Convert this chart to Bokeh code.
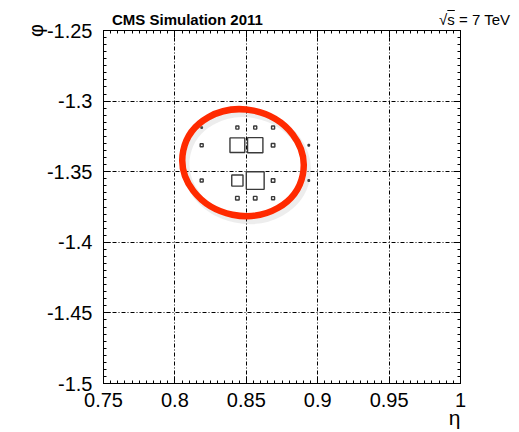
from bokeh.plotting import figure
from bokeh.layouts import column
from bokeh.models import (Range1d, FixedTicker, LinearAxis, CustomJSTickFormatter,
                          ColumnDataSource, Div)
from bokeh.embed import file_html
from bokeh.resources import INLINE

# ---------------- data ----------------
# eta / phi bin centres of the hit cells (bin width 0.0125) and relative energy
cell_eta = [0.85625,
            0.81875, 0.84375, 0.85625, 0.86875,
            0.81875, 0.84375, 0.85625, 0.86875, 0.89375,
            0.81875, 0.84375, 0.85625, 0.86875, 0.89375,
            0.84375, 0.85625, 0.86875,
            0.84375, 0.85625]
cell_phi = [-1.30625,
            -1.31875, -1.31875, -1.31875, -1.31875,
            -1.33125, -1.33125, -1.33125, -1.33125, -1.33125,
            -1.35625, -1.35625, -1.35625, -1.35625, -1.35625,
            -1.36875, -1.36875, -1.36875,
            -1.38125, -1.38125]
cell_energy = [0.05,
               0.08, 0.17, 0.17, 0.17,
               0.17, 0.83, 0.86, 0.20, 0.08,
               0.17, 0.63, 1.00, 0.20, 0.08,
               0.20, 0.20, 0.17,
               0.08, 0.08]
bin_width = 0.0125

x_major = [0.75, 0.8, 0.85, 0.9, 0.95, 1.0]
y_major = [-1.5, -1.45, -1.4, -1.35, -1.3, -1.25]

title_text = "CMS Simulation 2011"

# highlight ellipse (eta, phi, width, height, angle)
ell_x, ell_y, ell_w, ell_h, ell_angle = 0.8477, -1.3436, 0.0854, 0.0752, -0.2

W, H, HEAD = 519, 432, 30

# ---------------- header texts (drawn under the transparent plot border) ----------------
hdr = Div(width=W, height=HEAD, margin=0, text=(
    '<div style="position:relative;width:%dpx;height:%dpx;'
    'font-family:\'Liberation Sans\',Arial,sans-serif;color:black;">'
    '<span style="position:absolute;left:112px;top:12px;font-size:15px;'
    'line-height:15px;font-weight:bold;white-space:nowrap;">%s</span>'
    '<span style="position:absolute;right:9px;top:12px;font-size:15px;'
    'line-height:15px;white-space:nowrap;">\u221a<span style="text-decoration:overline;">s</span>'
    ' = 7 TeV</span></div>') % (W, HEAD, title_text))

# ---------------- main figure ----------------
p = figure(width=W, height=H, output_backend="svg", toolbar_location=None,
           x_range=Range1d(0.75, 1.0), y_range=Range1d(-1.5, -1.25),
           min_border_left=103, min_border_right=59, min_border_top=30,
           min_border_bottom=49, x_axis_location=None, y_axis_location=None,
           background_fill_color="white", border_fill_alpha=0,
           margin=(-HEAD, 0, 0, 0))
p.outline_line_color = "black"
p.outline_line_width = 1

x_minor = [round(0.75 + 0.005 * k, 4) for k in range(51)]
y_minor = [round(-1.5 + 0.005 * k, 4) for k in range(51)]

fmt = CustomJSTickFormatter(code="""
var s = tick.toFixed(3);
s = s.replace(/0+$/, '').replace(/\\.$/, '');
return s;
""")


def make_axis(ticks, minor, show_labels):
    ax = LinearAxis(ticker=FixedTicker(ticks=ticks, minor_ticks=minor))
    ax.major_tick_in = 7
    ax.major_tick_out = 0
    ax.minor_tick_in = 3
    ax.minor_tick_out = 0
    ax.axis_line_color = "black"
    ax.major_tick_line_color = "black"
    ax.minor_tick_line_color = "black"
    if show_labels:
        ax.formatter = fmt
        ax.major_label_text_font = "Liberation Sans"
        ax.major_label_text_font_size = "20px"
        ax.major_label_text_color = "black"
    else:
        ax.major_label_text_font_size = "0px"
        ax.major_label_standoff = 0
    return ax


bx = make_axis(x_major, x_minor, True)
bx.major_label_standoff = 9
bx.axis_label = "\u03b7\u00a0\u00a0"
bx.axis_label_align = "end"
bx.axis_label_text_align = "right"
bx.axis_label_standoff = -4
bx.axis_label_text_font = "Liberation Sans"
bx.axis_label_text_font_style = "normal"
bx.axis_label_text_font_size = "21px"
bx.axis_label_text_color = "black"
p.add_layout(bx, "below")

ly = make_axis(y_major, y_minor, True)
ly.major_label_standoff = 11
ly.axis_label = "\u03c6"
ly.axis_label_align = "end"
ly.axis_label_standoff = -3
ly.axis_label_text_font = "Liberation Sans"
ly.axis_label_text_font_style = "normal"
ly.axis_label_text_font_size = "20px"
ly.axis_label_text_color = "black"
p.add_layout(ly, "left")

p.add_layout(make_axis(x_major, x_minor, False), "above")
p.add_layout(make_axis(y_major, y_minor, False), "right")

p.xgrid.ticker = FixedTicker(ticks=x_major[1:-1])
p.ygrid.ticker = FixedTicker(ticks=y_major[1:-1])
for g in (p.xgrid, p.ygrid):
    g.grid_line_color = "black"
    g.grid_line_dash = "4 2 1 2"
    g.grid_line_width = 1

# boxes
emax = max(cell_energy)
sizes = [bin_width * e / emax for e in cell_energy]
src = ColumnDataSource(dict(x=cell_eta, y=cell_phi, s=sizes))
p.rect(x="x", y="y", width="s", height="s", source=src,
       fill_color=None, line_color="#3a3a3a", line_width=1.4)

# highlight ellipse with soft shadow
p.ellipse(x=[ell_x + 0.0022], y=[ell_y - 0.0028], width=[ell_w], height=[ell_h],
          angle=[ell_angle], fill_color=None, line_color="#888888",
          line_alpha=0.15, line_width=8)
p.ellipse(x=[ell_x], y=[ell_y], width=[ell_w], height=[ell_h], angle=[ell_angle],
          fill_color=None, line_color="#ff2a00", line_width=6.5)

layout = column(hdr, p, spacing=0)
open("out.html", "w").write(file_html(layout, INLINE))
